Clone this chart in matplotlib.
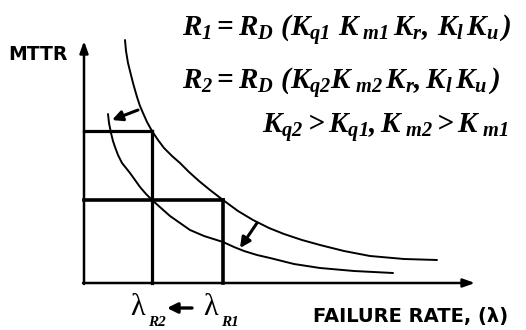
import matplotlib
matplotlib.use("Agg")
import matplotlib.pyplot as plt

# ---- data (chart units: lambda to the right, MTTR up; origin at axis corner) ----
r1_lambda = [41, 42, 44, 46, 49, 53, 56, 59, 63, 68, 74, 80, 88, 96, 105, 115, 126, 139,
             154, 169, 185, 200, 218, 236, 260, 286, 320, 353]
r1_mttr   = [243, 232, 220, 212, 200, 186, 177, 170, 161, 152, 143, 135, 127, 120, 111, 102, 93, 83,
             72, 63, 55, 49, 43, 38, 32, 27, 24, 23]
r2_lambda = [24, 25, 27, 29, 31, 34, 38, 42, 46, 51, 56, 62, 68, 77, 86, 96, 106, 120, 139,
             150, 160, 173, 186, 210, 236, 270, 309]
r2_mttr   = [169, 160, 150, 142, 136, 128, 120, 115, 110, 103, 96, 89, 83, 75, 67, 60, 53, 47, 41,
             36, 32, 28, 25, 19, 15, 12, 10]
lambda_r2 = 68
lambda_r1 = 139
mttr_hi = 152
mttr_lo = 83

eq1 = r'$R_{1} = R_{D}\ (K_{q1}\ K_{\ m1}\,K_{r},\,K_{l}\,K_{u}\,)$'
eq2 = r'$R_{2} = R_{D}\ (K_{q2}K_{\ m2}\,K_{r},K_{l}\,K_{u}\,)$'
eq3 = r'$K_{q2} > K_{q1},K_{\ m2} > K_{\ m1}$'
y_label = 'MTTR'
x_label = 'FAILURE RATE, (λ)'

plt.rcParams['mathtext.fontset'] = 'custom'
plt.rcParams['mathtext.it'] = 'Liberation Serif:italic:bold'
plt.rcParams['mathtext.rm'] = 'Liberation Serif:italic:bold'
plt.rcParams['mathtext.bf'] = 'Liberation Serif:italic:bold'

fig = plt.figure(figsize=(5.26, 3.30), dpi=100)
ax = fig.add_axes([0, 0, 1, 1])
ax.set_xlim(-84, 442)
ax.set_ylim(-47, 283)
ax.axis('off')

# axes with arrows
ax.annotate('', xy=(0, 242), xytext=(0, -1),
            arrowprops=dict(arrowstyle='-|>,head_length=0.7,head_width=0.25', lw=1.8, color='black',
                            shrinkA=0, shrinkB=0))
ax.annotate('', xy=(391, 0), xytext=(-1, 0),
            arrowprops=dict(arrowstyle='-|>,head_length=0.7,head_width=0.25', lw=1.8, color='black',
                            shrinkA=0, shrinkB=0))

# curves
ax.plot(r1_lambda, r1_mttr, color='black', lw=1.4, solid_capstyle='round', solid_joinstyle='round')
ax.plot(r2_lambda, r2_mttr, color='black', lw=1.4, solid_capstyle='round', solid_joinstyle='round')

# rectangles
ax.plot([0, lambda_r2], [mttr_hi, mttr_hi], color='black', lw=2.3)
ax.plot([lambda_r2, lambda_r2], [0, mttr_hi], color='black', lw=2.3)
ax.plot([0, lambda_r1], [mttr_lo, mttr_lo], color='black', lw=2.6)
ax.plot([lambda_r1, lambda_r1], [0, mttr_lo], color='black', lw=2.6)

# shift arrows
arr = dict(arrowstyle='-|>,head_length=0.6,head_width=0.3', lw=2.2, color='black', shrinkA=0, shrinkB=0)
ax.annotate('', xy=(28, 163), xytext=(54, 173), arrowprops=arr)
ax.annotate('', xy=(156, 35), xytext=(173, 60), arrowprops=arr)
ax.annotate('', xy=(83, -25), xytext=(108, -25),
            arrowprops=dict(arrowstyle='-|>,head_length=0.6,head_width=0.3', lw=2.4, color='black',
                            shrinkA=0, shrinkB=0))

# texts
ax.text(-76, 228, y_label, fontsize=13.5, fontweight='bold', family='DejaVu Sans',
        ha='left', va='center')
ax.text(98, 246, eq1, fontsize=21, ha='left', va='baseline')
ax.text(98, 193, eq2, fontsize=21, ha='left', va='baseline')
ax.text(178, 150, eq3, fontsize=21, ha='left', va='baseline')

ax.text(46, -32, 'λ', fontsize=22, family='Liberation Serif', ha='left', va='baseline')
ax.text(64, -43, 'R2', fontsize=11, family='Liberation Serif', style='italic', fontweight='bold',
        ha='left', va='baseline')
ax.text(119, -32, 'λ', fontsize=22, family='Liberation Serif', ha='left', va='baseline')
ax.text(137, -43, 'R1', fontsize=11, family='Liberation Serif', style='italic', fontweight='bold',
        ha='left', va='baseline')
ax.text(229, -39, x_label, fontsize=14, fontweight='bold', family='DejaVu Sans',
        ha='left', va='baseline')

fig.savefig('out.png', dpi=100)
